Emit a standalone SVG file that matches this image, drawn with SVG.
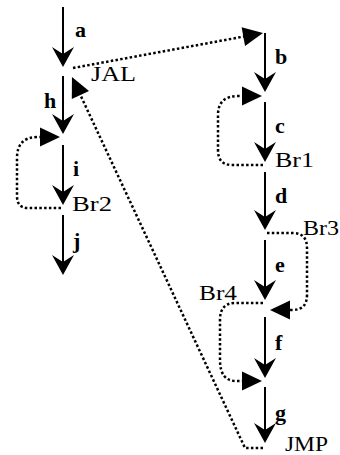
<svg xmlns="http://www.w3.org/2000/svg" width="340" height="455" viewBox="0 0 340 455">
  <style>
    .flow { stroke: #000; stroke-width: 2; fill: none; marker-end: url(#head); }
    .jump { stroke: #000; stroke-width: 2.5; fill: none; stroke-dasharray: 2.5 2.3; marker-end: url(#tri); }
    .lbl { font-family: "Liberation Serif", "Times New Roman", serif; font-weight: bold; font-size: 22px; fill: #000; }
    .tag { font-family: "Liberation Serif", "Times New Roman", serif; font-size: 21px; fill: #000; }
  </style>
  <defs>
    <!-- notched arrowhead for the straight-line flow edges -->
    <marker id="head" viewBox="-22 -12 24 24" refX="-8" refY="0" markerWidth="24" markerHeight="24" markerUnits="userSpaceOnUse" orient="auto">
      <path d="M0,0 L-20,-11 L-13,0 L-20,11 Z" fill="#000"/>
    </marker>
    <!-- plain triangle for the dotted branch/jump edges -->
    <marker id="tri" viewBox="-22 -12 24 24" refX="-6" refY="0" markerWidth="24" markerHeight="24" markerUnits="userSpaceOnUse" orient="auto">
      <path d="M0,0 L-20,-9.5 L-20,9.5 Z" fill="#000"/>
    </marker>
  </defs>

  <g id="connectors">
    <!-- left column -->
    <line class="flow" x1="63" y1="7" x2="63" y2="59"/>
    <line class="flow" x1="63" y1="76" x2="63" y2="126"/>
    <line class="flow" x1="63" y1="145" x2="63" y2="197"/>
    <line class="flow" x1="63" y1="215" x2="63" y2="267"/>
    <!-- right column -->
    <line class="flow" x1="265" y1="33" x2="265" y2="84"/>
    <line class="flow" x1="265" y1="102" x2="265" y2="154"/>
    <line class="flow" x1="265" y1="172" x2="265" y2="222"/>
    <line class="flow" x1="265" y1="240" x2="265" y2="292"/>
    <line class="flow" x1="265" y1="317" x2="265" y2="370"/>
    <line class="flow" x1="265" y1="387" x2="265" y2="435"/>

    <!-- JAL call -->
    <path class="jump" d="M73,68 L257.1,34.1"/>
    <!-- Br2 back edge -->
    <path class="jump" d="M61,208 L28,208 Q17,208 17,196 L17,158 Q17,137 38,137 L54,137"/>
    <!-- Br1 back edge -->
    <path class="jump" d="M263,165 L232,165 Q218,165 218,150 L218,115 Q218,96 238,96 L256,96"/>
    <!-- Br3 forward edge -->
    <path class="jump" d="M267,233 L293,233 Q307,233 307,248 L307,295 Q307,310 292,310 L276,310"/>
    <!-- Br4 back edge -->
    <path class="jump" d="M263,303 L235,303 Q220,303 220,320 L220,360 Q220,381 236,381 L256,381"/>
    <!-- JMP return -->
    <path class="jump" d="M263,448 L245,448 L74.5,82.4"/>
  </g>

  <g id="edge-labels">
    <text class="lbl" x="75" y="37">a</text>
    <text class="lbl" x="44" y="108">h</text>
    <text class="lbl" x="73" y="176">i</text>
    <text class="lbl" x="73" y="248">j</text>
    <text class="lbl" x="275" y="64">b</text>
    <text class="lbl" x="275" y="133">c</text>
    <text class="lbl" x="275" y="203">d</text>
    <text class="lbl" x="275" y="272">e</text>
    <text class="lbl" x="275" y="350">f</text>
    <text class="lbl" x="275" y="420">g</text>
  </g>

  <g id="node-JAL"><text class="tag" x="91" y="81" textLength="45" lengthAdjust="spacingAndGlyphs">JAL</text></g>
  <g id="node-Br2"><text class="tag" x="72" y="211" textLength="40" lengthAdjust="spacingAndGlyphs">Br2</text></g>
  <g id="node-Br1"><text class="tag" x="275" y="167" textLength="39" lengthAdjust="spacingAndGlyphs">Br1</text></g>
  <g id="node-Br3"><text class="tag" x="303" y="235" textLength="36" lengthAdjust="spacingAndGlyphs">Br3</text></g>
  <g id="node-Br4"><text class="tag" x="199" y="300" textLength="38" lengthAdjust="spacingAndGlyphs">Br4</text></g>
  <g id="node-JMP"><text class="tag" x="285" y="451" textLength="43" lengthAdjust="spacingAndGlyphs">JMP</text></g>
</svg>
